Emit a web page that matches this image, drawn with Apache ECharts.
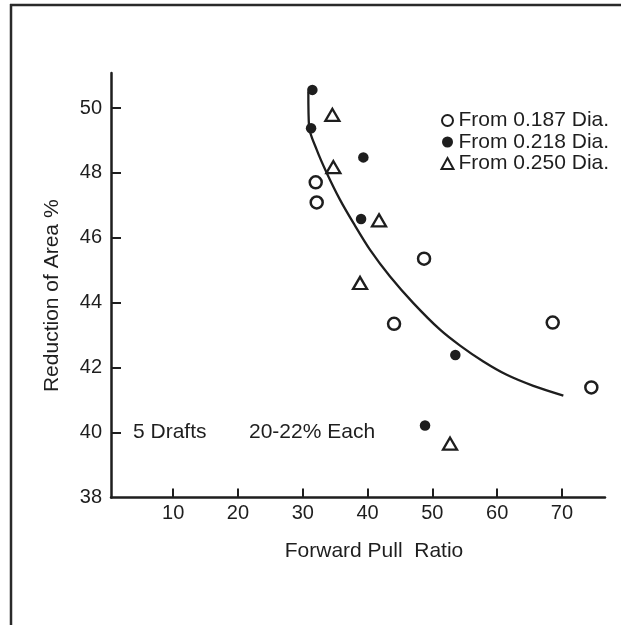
<!DOCTYPE html>
<html>
<head>
<meta charset="utf-8">
<title>Reduction of Area vs Forward Pull Ratio</title>
<script src="https://cdn.jsdelivr.net/npm/echarts@6.0.0/dist/echarts.min.js"></script>
<style>
  html, body { margin: 0; padding: 0; background: #fff; }
  #chart { width: 621px; height: 625px; }
</style>
</head>
<body>
<div id="chart"></div>
<script>
// values: [forward pull ratio, reduction of area %]
const dia187 = [[32.0, 47.71], [32.15, 47.09], [48.72, 45.36], [44.09, 43.35], [68.58, 43.39], [74.54, 41.39]]
const dia218 = [[31.48, 50.56], [31.28, 49.38], [39.35, 48.48], [39.0, 46.58], [53.55, 42.39], [48.87, 40.22]]
const dia250 = [[34.57, 49.79], [34.72, 48.18], [41.77, 46.54], [38.84, 44.61], [52.73, 39.66]]
// hand-drawn trend curve
const trendCurve = [
  [30.86, 50.51], [30.97, 49.43], [32.16, 48.71], [33.7, 48.0], [35.76, 47.17], [37.81, 46.46],
  [40.39, 45.63], [43.47, 44.81], [47.07, 43.99], [51.19, 43.17], [54.28, 42.68],
  [57.87, 42.19], [61.48, 41.78], [65.59, 41.44], [70.22, 41.14],
]
const xTicks = [10, 20, 30, 40, 50, 60, 70]
const yTicks = [40, 42, 44, 46, 48, 50]
const yLabels = [38, 40, 42, 44, 46, 48, 50]
const seriesNames = ['From 0.187 Dia.', 'From 0.218 Dia.', 'From 0.250 Dia.']

const ink = '#1e1e1e'
const font = "'Liberation Sans', Arial, sans-serif"

const chart = echarts.init(document.getElementById('chart'), null, { renderer: 'canvas' })

const option = {
  animation: false,
  backgroundColor: '#fff',
  textStyle: { fontFamily: font, color: ink },
  grid: { left: 111, right: 16, top: 73, bottom: 127.5, outerBoundsMode: 'none' },
  legend: {
    orient: 'vertical',
    left: 440.5,
    top: 110,
    padding: 0,
    itemWidth: 12,
    itemHeight: 11,
    itemGap: 0.5,
    textStyle: { fontSize: 21, lineHeight: 20, color: ink, fontFamily: font },
    data: [
      { name: seriesNames[0], icon: 'circle' },
      { name: seriesNames[1], icon: 'circle' },
      { name: seriesNames[2], icon: 'triangle' },
    ],
    selectedMode: false,
  },
  xAxis: {
    type: 'value',
    min: 0.4,
    max: 76.65,
    name: 'Forward Pull  Ratio',
    nameLocation: 'middle',
    nameGap: 43,
    nameTextStyle: { fontSize: 21, color: ink, padding: [0, 0, 0, 32] },
    axisLine: { onZero: false, lineStyle: { color: ink, width: 2.5 } },
    axisTick: { inside: true, length: 9, lineStyle: { color: ink, width: 2 }, customValues: xTicks },
    axisLabel: { fontSize: 20, color: ink, margin: 6, customValues: xTicks },
    splitLine: { show: false },
  },
  yAxis: {
    type: 'value',
    min: 38,
    max: 51.08,
    name: 'Reduction of Area %',
    nameLocation: 'middle',
    nameGap: 48,
    nameTextStyle: { fontSize: 21, color: ink, padding: [0, 21, 0, 0] },
    axisLine: { onZero: false, lineStyle: { color: ink, width: 2.5 } },
    axisTick: { inside: true, length: 10, lineStyle: { color: ink, width: 2 }, customValues: yTicks },
    axisLabel: { fontSize: 20, color: ink, margin: 9, customValues: yLabels },
    splitLine: { show: false },
  },
  series: [
    {
      name: 'trend',
      type: 'line',
      data: trendCurve,
      smooth: 0.3,
      showSymbol: false,
      symbol: 'none',
      lineStyle: { color: ink, width: 2.3 },
      silent: true,
      z: 1,
    },
    {
      name: seriesNames[0],
      type: 'scatter',
      symbol: 'circle',
      symbolSize: 12,
      itemStyle: { color: '#fff', borderColor: ink, borderWidth: 2.5, opacity: 1 },
      data: dia187,
      z: 3,
    },
    {
      name: seriesNames[1],
      type: 'scatter',
      symbol: 'circle',
      symbolSize: 10.5,
      itemStyle: { color: ink, opacity: 1 },
      data: dia218,
      z: 3,
    },
    {
      name: seriesNames[2],
      type: 'scatter',
      symbol: 'triangle',
      symbolSize: [14, 12],
      itemStyle: { color: '#fff', borderColor: ink, borderWidth: 2.3, opacity: 1 },
      data: dia250,
      z: 3,
    },
  ],
  graphic: [
    // frame around the figure
    { type: 'line', shape: { x1: 10, y1: 5, x2: 621, y2: 5 }, style: { stroke: '#2a2a2a', lineWidth: 2.5 } },
    { type: 'line', shape: { x1: 11, y1: 4, x2: 11, y2: 625 }, style: { stroke: '#2a2a2a', lineWidth: 2.5 } },
    {
      type: 'text',
      x: 133,
      y: 432,
      style: { text: '5 Drafts', fontSize: 21, fontFamily: font, fill: ink, verticalAlign: 'middle' },
    },
    {
      type: 'text',
      x: 249,
      y: 432,
      style: { text: '20-22% Each', fontSize: 21, fontFamily: font, fill: ink, verticalAlign: 'middle' },
    },
  ],
}

chart.setOption(option)
window.addEventListener('resize', () => chart.resize())
</script>
</body>
</html>
